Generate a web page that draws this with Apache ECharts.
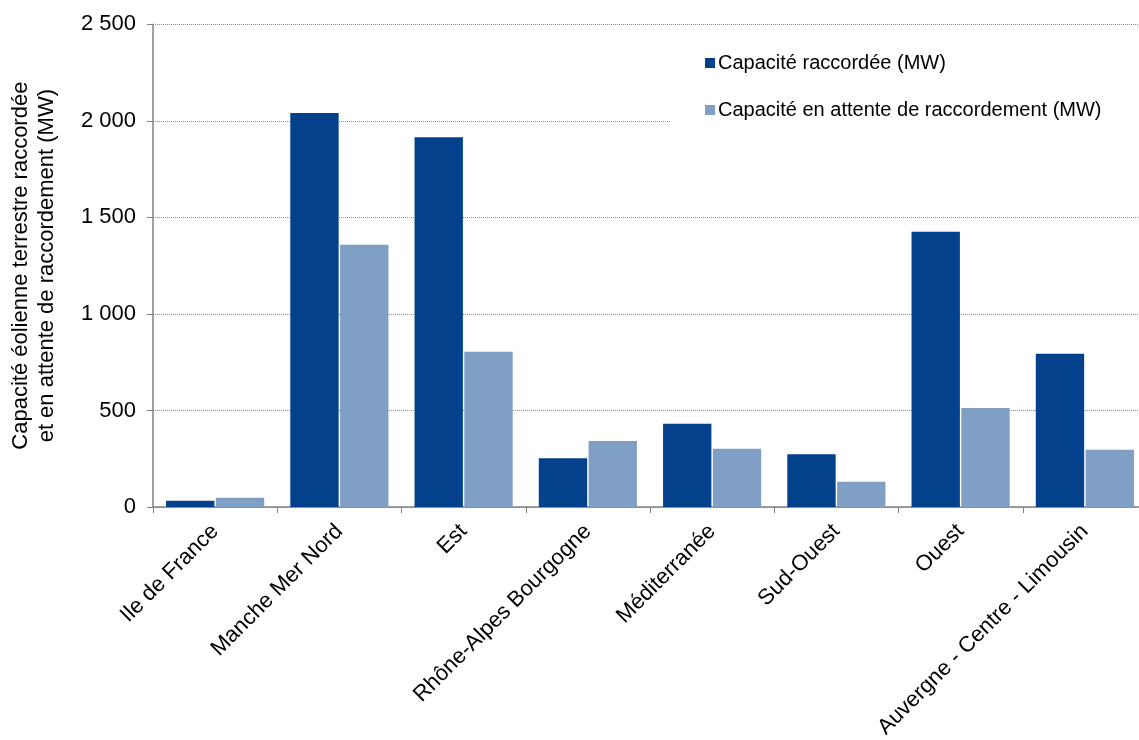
<!DOCTYPE html>
<html>
<head>
    <meta charset="utf-8">
    <title>Capacité éolienne terrestre</title>
    <script src="https://cdn.jsdelivr.net/npm/echarts@6/dist/echarts.min.js"></script>
    <style>
        html, body { margin: 0; padding: 0; background: #fff; }
    </style>
</head>
<body>
    <div id="main" style="width:1139px;height:740px;"></div>

    <script type="text/javascript">
        // régions (axe des x)
        var regions = ['Ile de France', 'Manche Mer Nord', 'Est', 'Rhône-Alpes Bourgogne',
            'Méditerranée', 'Sud-Ouest', 'Ouest', 'Auvergne - Centre - Limousin'];
        // capacité raccordée (MW)
        var raccordee = [33, 2040, 1915, 252, 431, 273, 1426, 794];
        // capacité en attente de raccordement (MW)
        var enAttente = [48, 1358, 804, 342, 302, 131, 513, 297];
        var yTicks = [0, 500, 1000, 1500, 2000, 2500];

        var police = '"Liberation Sans", Arial, sans-serif';

        // séparateur de milliers avec une espace
        var formatMW = function (v) {
            return String(v).replace(/\B(?=(\d{3})+(?!\d))/g, ' ');
        };

        var myChart = echarts.init(document.getElementById('main'));

        var option = {
            backgroundColor: '#fff',
            animation: false,
            textStyle: { fontFamily: police, color: '#000' },
            grid: {
                left: 153,
                top: 24.3,
                width: 994,
                height: 482.7,
                containLabel: false,
                outerBoundsMode: 'none'
            },
            legend: {
                orient: 'vertical',
                left: 670,
                top: 31,
                padding: [22, 200, 20, 35],
                backgroundColor: '#fff',
                itemWidth: 10,
                itemHeight: 10,
                itemGap: 27,
                icon: 'rect',
                textStyle: { fontFamily: police, fontSize: 20, color: '#000', padding: [0, 0, 0, -2] },
                data: ['Capacité raccordée (MW)', 'Capacité en attente de raccordement (MW)']
            },
            xAxis: {
                type: 'category',
                data: regions,
                axisLine: { lineStyle: { color: '#808080', width: 1.5 } },
                axisTick: { show: true, length: 6, lineStyle: { color: '#808080' } },
                axisLabel: {
                    rotate: 45,
                    interval: 0,
                    margin: 21,
                    fontFamily: police,
                    fontSize: 22,
                    color: '#000'
                }
            },
            yAxis: {
                type: 'value',
                min: yTicks[0],
                max: yTicks[yTicks.length - 1],
                interval: 500,
                name: 'Capacité éolienne terrestre raccordée\net en attente de raccordement (MW)',
                nameLocation: 'middle',
                nameGap: 93,
                nameTextStyle: { fontFamily: police, fontSize: 22, color: '#000', lineHeight: 26 },
                axisLine: { show: true, lineStyle: { color: '#808080', width: 1.5 } },
                axisTick: { show: true, length: 6, lineStyle: { color: '#808080' } },
                axisLabel: {
                    margin: 17,
                    fontFamily: police,
                    fontSize: 22,
                    color: '#000',
                    formatter: formatMW
                },
                splitLine: { lineStyle: { color: '#8c8c8c', type: [1, 1], width: 1 } }
            },
            series: [
                {
                    name: 'Capacité raccordée (MW)',
                    type: 'bar',
                    data: raccordee,
                    barGap: '3%',
                    barCategoryGap: '21%',
                    itemStyle: { color: '#03418D' }
                },
                {
                    name: 'Capacité en attente de raccordement (MW)',
                    type: 'bar',
                    data: enAttente,
                    itemStyle: { color: '#809FC5' }
                }
            ]
        };

        myChart.setOption(option);
    </script>
</body>
</html>
